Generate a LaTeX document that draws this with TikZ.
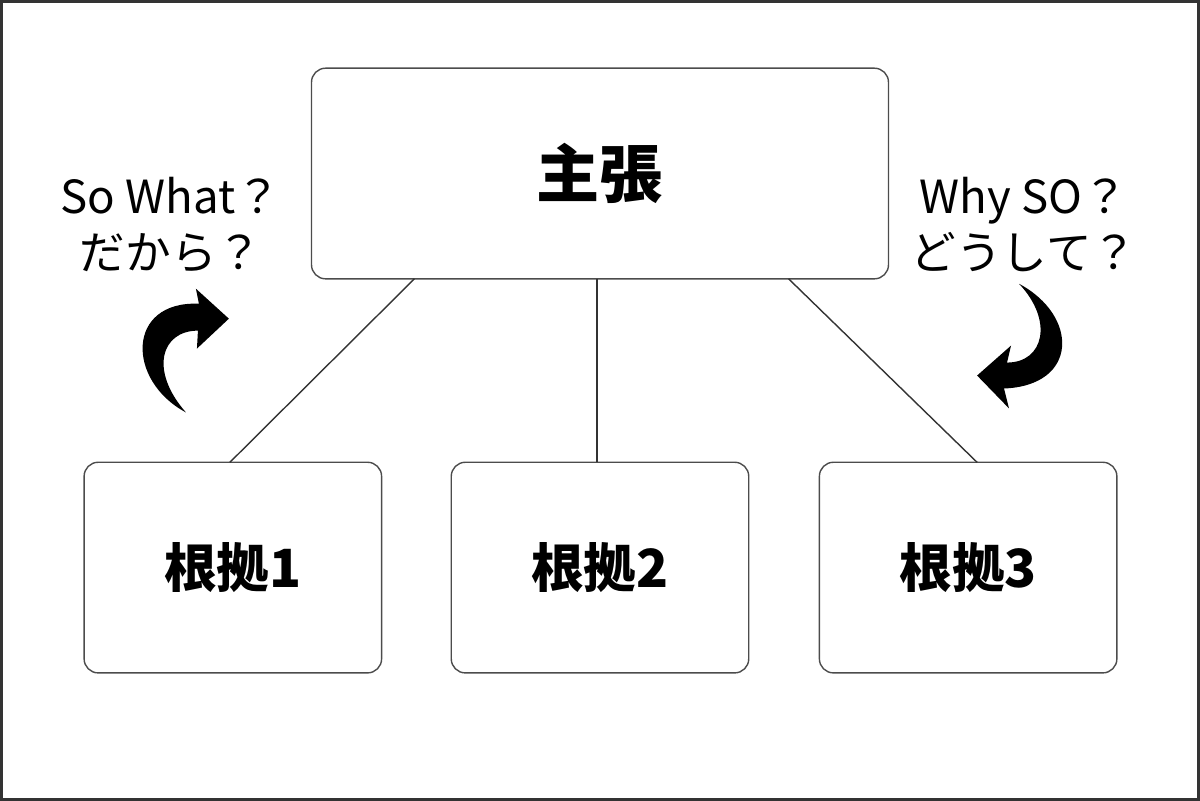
\documentclass[tikz,border=0pt]{standalone}
\usepackage{fontspec}
\setmainfont{Noto Sans CJK JP}
\usepackage{tikz}
\usetikzlibrary{arrows.meta}
\tikzset{
  claimbox/.style={draw=black!70, rounded corners=4pt, minimum width=5.78cm, minimum height=2.11cm},
  reasonbox/.style={draw=black!70, rounded corners=4pt, minimum width=2.98cm, minimum height=2.11cm},
  asklabel/.style={align=center, font=\fontsize{13}{16}\selectfont, inner sep=0pt}
}
\begin{document}
\begin{tikzpicture}[x=0.01cm,y=-0.01cm]
\draw[black!80, line width=0.8pt] (0,0) rectangle (1200,800);
% boxes
\node[claimbox] (claim) at (600,172.5) {\fontsize{18}{20}\selectfont\bfseries 主張};
\node[reasonbox] (r1) at (232,567.5) {\fontsize{15}{17}\selectfont\bfseries 根拠1};
\node[reasonbox] (r2) at (600,567.5) {\fontsize{15}{17}\selectfont\bfseries 根拠2};
\node[reasonbox] (r3) at (969,567.5) {\fontsize{15}{17}\selectfont\bfseries 根拠3};
% edge ends
\coordinate (c1) at (414,278);
\coordinate (c2) at (597,278);
\coordinate (c3) at (789,278);
\coordinate (e1) at (229,462);
\coordinate (e2) at (597,462);
\coordinate (e3) at (978,462);
% edges
\draw[black!80] (c1) -- (e1);
\draw[black!80] (c2) -- (e2);
\draw[black!80] (c3) -- (e3);
% labels
\node[asklabel] (sowhat) at (170,224) {So What？\\だから？};
\node[asklabel] (whyso) at (1025,224) {Why SO？\\どうして？};
% curved arrows
\fill (185,412) .. controls (125,380) and (125,300) .. (198,303)
  -- (195,288) -- (228,318) -- (196,348) -- (197,330)
  .. controls (160,330) and (148,370) .. (185,412) -- cycle;
\fill (1020,283) .. controls (1080,315) and (1080,385) .. (1005,388)
  -- (1010,408) -- (978,375) -- (1012,345) -- (1008,362)
  .. controls (1045,362) and (1055,320) .. (1020,283) -- cycle;
\end{tikzpicture}
\end{document}
